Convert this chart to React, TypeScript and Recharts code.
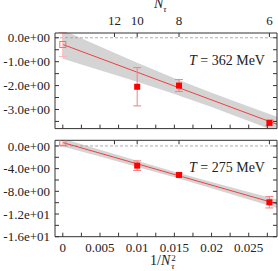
import React from 'react';
import {
  ComposedChart,
  Area,
  Line,
  Scatter,
  ErrorBar,
  XAxis,
  YAxis,
  ReferenceLine,
} from 'recharts';

// lattice sizes and their 1/Nτ² positions
const nTau = [12, 10, 8, 6];
const nTauX = [1 / 144, 1 / 100, 1 / 64, 1 / 36];
const latticeX = [0.01, 0.015625, 0.027778]; // Nτ = 10, 8, 6

const xTicks = [0, 0.0025, 0.005, 0.0075, 0.01, 0.0125, 0.015, 0.0175, 0.02, 0.0225, 0.025, 0.0275];
const xLabels = [0, 0.005, 0.01, 0.015, 0.02, 0.025];

// T = 362 MeV
const hotY = [-2.05, -2.0, -3.56];
const hotErr = [0.8, 0.25, 0.12];
const hotCont = [-0.28];
const hotContErr = [0.5];
const hotFitX = [0, 0.0288];
const hotFitY = [-0.28, -3.62];
const bandX = [0, 0.005, 0.01, 0.015, 0.02, 0.025, 0.0288];
const hotBandLow = [-0.88, -1.36, -1.84, -2.35, -2.9, -3.48, -3.94];
const hotBandHigh = [0.32, -0.36, -1.04, -1.69, -2.3, -2.88, -3.3];
const hotYTicks = [-3.5, -3, -2.5, -2, -1.5, -1, -0.5, 0];
const hotYLabels = [-3, -2, -1, 0];

// T = 275 MeV
const coolY = [-3.47, -5.11, -9.93];
const coolErr = [0.85, 0.3, 1.0];
const coolCont = [0.58];
const coolContErr = [0.4];
const coolFitX = [0, 0.0288];
const coolFitY = [0.6, -10.2];
const coolBandLow = [-0.1, -1.875, -3.7, -5.53, -7.45, -9.43, -10.95];
const coolBandHigh = [1.3, -0.675, -2.6, -4.53, -6.35, -8.13, -9.45];
const coolYTicks = [-16, -14, -12, -10, -8, -6, -4, -2, 0];
const coolYLabels = [-16, -12, -8, -4, 0];

const FONT = '"Liberation Serif", "DejaVu Serif", serif';
const FRAME = '#333';
const TXT = '#222';

const near = (list: number[], v: number) => list.some((l) => Math.abs(l - v) < 1e-9);

function fmtExp(v: number) {
  const [m, e] = v.toExponential(1).split('e');
  return `${m}e${e[0]}${e.slice(1).padStart(2, '0')}`;
}

const leftTick = (labels: number[]) => (p: any) => {
  const v = p.payload.value;
  return (
    <g>
      <line x1={p.x} x2={p.x + 4} y1={p.y} y2={p.y} stroke={FRAME} />
      {near(labels, v) && (
        <text x={p.x - 5} y={p.y} dy="0.35em" textAnchor="end" fontSize={13} fontFamily={FONT} fill={TXT}>
          {fmtExp(v)}
        </text>
      )}
    </g>
  );
};

const rightTick = (p: any) => (
  <line x1={p.x - 4} x2={p.x} y1={p.y} y2={p.y} stroke={FRAME} />
);

const bottomTick = (labels: number[]) => (p: any) => {
  const v = p.payload.value;
  return (
    <g>
      <line x1={p.x} x2={p.x} y1={p.y} y2={p.y - 4} stroke={FRAME} />
      {near(labels, v) && (
        <text x={p.x} y={p.y + 10.5} dy="0.35em" textAnchor="middle" fontSize={13} fontFamily={FONT} fill={TXT}>
          {parseFloat(v.toFixed(4)).toString()}
        </text>
      )}
    </g>
  );
};

const topTick = (showLabels: boolean) => (p: any) => {
  const i = nTauX.findIndex((t) => Math.abs(t - p.payload.value) < 1e-9);
  return (
    <g>
      <line x1={p.x} x2={p.x} y1={p.y} y2={p.y + 4} stroke={FRAME} />
      {showLabels && i >= 0 && (
        <text x={p.x} y={p.y - 12.5} dy="0.35em" textAnchor="middle" fontSize={13} fontFamily={FONT} fill={TXT}>
          {nTau[i]}
        </text>
      )}
    </g>
  );
};

const filledSquare = (p: any) => (
  <rect x={p.cx - 3} y={p.cy - 3} width={6} height={6} fill="#ff0000" />
);
const openSquare = (p: any) => (
  <rect x={p.cx - 3} y={p.cy - 3} width={6} height={6} fill="none" stroke="#f07070" strokeWidth={1} />
);

interface PanelProps {
  top: number;
  height: number;
  margin: { top: number; right: number; bottom: number; left: number };
  yDomain: [number, number];
  yTicks: number[];
  yLabels: number[];
  points: number[];
  errors: number[];
  cont: number[];
  contErr: number[];
  fitX: number[];
  fitY: number[];
  bandLow: number[];
  bandHigh: number[];
  topLabels: boolean;
  bottomLabels: boolean;
}

function Panel(props: PanelProps) {
  const pts = latticeX.map((x, i) => ({ x, y: props.points[i], err: props.errors[i] }));
  const contPts = props.cont.map((y, i) => ({ x: 0, y, err: props.contErr[i] }));
  const fit = props.fitX.map((x, i) => ({ x, fit: props.fitY[i] }));
  const band = bandX.map((x, i) => ({ x, band: [props.bandLow[i], props.bandHigh[i]] }));

  // axes take 1px each, so the margins are trimmed by 1
  const m = props.margin;
  const margin = { top: m.top - 1, right: m.right - 1, bottom: m.bottom - 1, left: m.left - 1 };

  return (
    <div style={{ position: 'absolute', left: 0, top: props.top }}>
      <ComposedChart width={278} height={props.height} margin={margin}>
        <XAxis
          type="number"
          dataKey="x"
          domain={[-0.00105, 0.0288]}
          allowDataOverflow
          ticks={xTicks}
          interval={0}
          height={1}
          tickSize={0}
          tickMargin={0}
          tickLine={false}
          axisLine={{ stroke: FRAME }}
          tick={bottomTick(props.bottomLabels ? xLabels : [])}
        />
        <XAxis
          xAxisId="top"
          orientation="top"
          type="number"
          dataKey="x"
          domain={[-0.00105, 0.0288]}
          allowDataOverflow
          ticks={nTauX}
          interval={0}
          height={1}
          tickSize={0}
          tickMargin={0}
          tickLine={false}
          axisLine={{ stroke: FRAME }}
          tick={topTick(props.topLabels)}
        />
        <YAxis
          type="number"
          domain={props.yDomain}
          allowDataOverflow
          ticks={props.yTicks}
          interval={0}
          width={1}
          tickSize={0}
          tickMargin={0}
          tickLine={false}
          axisLine={{ stroke: FRAME }}
          tick={leftTick(props.yLabels)}
        />
        <YAxis
          yAxisId="r"
          orientation="right"
          type="number"
          domain={props.yDomain}
          allowDataOverflow
          ticks={props.yTicks}
          interval={0}
          width={1}
          tickSize={0}
          tickMargin={0}
          tickLine={false}
          axisLine={{ stroke: FRAME }}
          tick={rightTick}
        />
        <Area
          data={band}
          dataKey="band"
          type="linear"
          stroke="none"
          fill="#d4d4d4"
          fillOpacity={1}
          isAnimationActive={false}
        />
        <ReferenceLine y={0} stroke="#999" strokeDasharray="3 2" strokeWidth={0.8} />
        <Line
          data={fit}
          dataKey="fit"
          type="linear"
          stroke="#f04040"
          strokeWidth={1}
          dot={false}
          isAnimationActive={false}
        />
        <Scatter data={contPts} dataKey="y" shape={openSquare} isAnimationActive={false}>
          <ErrorBar dataKey="err" direction="y" width={4} stroke="#ffb4b4" strokeWidth={1} />
        </Scatter>
        <Scatter data={pts} dataKey="y" shape={filledSquare} isAnimationActive={false}>
          <ErrorBar dataKey="err" direction="y" width={4} stroke="#f08080" strokeWidth={1} />
        </Scatter>
      </ComposedChart>
    </div>
  );
}

const noteStyle: React.CSSProperties = {
  position: 'absolute',
  fontFamily: FONT,
  fontSize: 14,
  color: TXT,
  whiteSpace: 'nowrap',
  lineHeight: '14px',
};

export default function App() {
  return (
    <div style={{ position: 'fixed', left: 0, top: 0, width: 278, height: 271, background: '#fff', overflow: 'hidden' }}>
      <Panel
        top={0}
        height={140}
        margin={{ top: 33, right: 1, bottom: 11.4, left: 55 }}
        yDomain={[-3.8, 0.2]}
        yTicks={hotYTicks}
        yLabels={hotYLabels}
        points={hotY}
        errors={hotErr}
        cont={hotCont}
        contErr={hotContErr}
        fitX={hotFitX}
        fitY={hotFitY}
        bandLow={hotBandLow}
        bandHigh={hotBandHigh}
        topLabels
        bottomLabels={false}
      />
      <Panel
        top={130}
        height={141}
        margin={{ top: 10.3, right: 1, bottom: 34.3, left: 55 }}
        yDomain={[-16, 1]}
        yTicks={coolYTicks}
        yLabels={coolYLabels}
        points={coolY}
        errors={coolErr}
        cont={coolCont}
        contErr={coolContErr}
        fitX={coolFitX}
        fitY={coolFitY}
        bandLow={coolBandLow}
        bandHigh={coolBandHigh}
        topLabels={false}
        bottomLabels
      />
      <div style={{ ...noteStyle, left: 154, top: -3 }}>
        <i>N</i>
        <sub style={{ fontSize: 9 }}>
          <i>τ</i>
        </sub>
      </div>
      <div style={{ ...noteStyle, left: 189, top: 54 }}>
        <i>T</i> = 362 MeV
      </div>
      <div style={{ ...noteStyle, left: 189, top: 161 }}>
        <i>T</i> = 275 MeV
      </div>
      <div style={{ ...noteStyle, left: 150, top: 254 }}>
        1/<i>N</i>
        <span
          style={{
            display: 'inline-flex',
            flexDirection: 'column',
            fontSize: 9,
            lineHeight: '8px',
            verticalAlign: 'middle',
            marginLeft: 1,
          }}
        >
          <span>2</span>
          <i>τ</i>
        </span>
      </div>
    </div>
  );
}
